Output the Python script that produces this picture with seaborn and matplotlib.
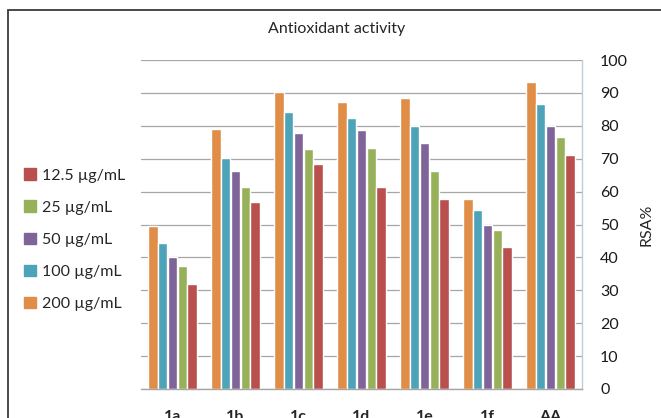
import matplotlib
matplotlib.use("Agg")
import matplotlib.pyplot as plt
import matplotlib.patches as mpatches
import seaborn as sns
import pandas as pd

categories = ["1a", "1b", "1c", "1d", "1e", "1f", "AA"]
conc_labels = ["200 µg/mL", "100 µg/mL", "50 µg/mL", "25 µg/mL", "12.5 µg/mL"]
vals_200 = [49.6, 78.9, 90.2, 87.3, 88.5, 57.8, 93.3]
vals_100 = [44.3, 70.1, 84.1, 82.5, 80.0, 54.5, 86.7]
vals_50 = [40.1, 66.3, 77.8, 78.6, 74.9, 50.0, 80.0]
vals_25 = [37.3, 61.5, 72.9, 73.3, 66.3, 48.2, 76.5]
vals_12_5 = [31.8, 56.9, 68.4, 61.3, 57.6, 43.3, 71.2]
yticks = list(range(0, 101, 10))

colors = ["#E08D47", "#4DA3B7", "#7F6499", "#97B15A", "#B9504E"]

series = [vals_200, vals_100, vals_50, vals_25, vals_12_5]
rows = []
for lab, vals in zip(conc_labels, series):
    for c, v in zip(categories, vals):
        rows.append({"cat": c, "conc": lab, "val": v})
df = pd.DataFrame(rows)

sns.set_style("white")
plt.rcParams["font.family"] = ["Lato", "DejaVu Sans"]

fig = plt.figure(figsize=(6.61, 4.18), dpi=100)
ax = fig.add_axes([141/661, 1-389/418, (582-141)/661, (389-60)/418])

sns.barplot(data=df, x="cat", y="val", hue="conc", order=categories,
            hue_order=conc_labels, palette=colors, width=0.78, gap=0.05,
            ax=ax, legend=False, saturation=1)

ax.set_ylim(0, 100)
ax.set_yticks(yticks)
ax.yaxis.tick_right()
ax.yaxis.set_label_position("right")
ax.grid(axis="y", color="#A6A6A6", linewidth=0.9)
ax.set_axisbelow(True)
ax.tick_params(axis="y", length=0, pad=13, labelsize=11.5, labelcolor="#1a1a1a")
ax.tick_params(axis="x", length=0, pad=15, labelsize=11.5)
for t in ax.get_xticklabels():
    t.set_fontweight("bold")
ax.set_xlabel("")
ax.set_ylabel("RSA%", fontsize=11.5, labelpad=8)
for s in ["left", "top"]:
    ax.spines[s].set_visible(False)
ax.spines["right"].set_color("#B9CDE5")
ax.spines["right"].set_linewidth(1.0)
ax.spines["bottom"].set_color("#A6A6A6")
ax.spines["bottom"].set_linewidth(1.0)

handles = [mpatches.Patch(color=c, label=l) for c, l in zip(colors, conc_labels)][::-1]
fig.legend(handles=handles, loc="upper left", bbox_to_anchor=(10/661, 1-154/418),
           frameon=False, fontsize=11.5, handlelength=0.7, handleheight=0.7,
           handletextpad=0.4, labelspacing=1.12)

fig.text(337/661, 1-29/418, "Antioxidant activity", ha="center", va="center", fontsize=11.5)

border = mpatches.Rectangle((8/661, -0.1), 1.1, 1-10/418+0.1, transform=fig.transFigure,
                            fill=False, edgecolor="#3a3a3a", linewidth=1.3, clip_on=False)
fig.patches.append(border)

fig.savefig("out.png", dpi=100)
